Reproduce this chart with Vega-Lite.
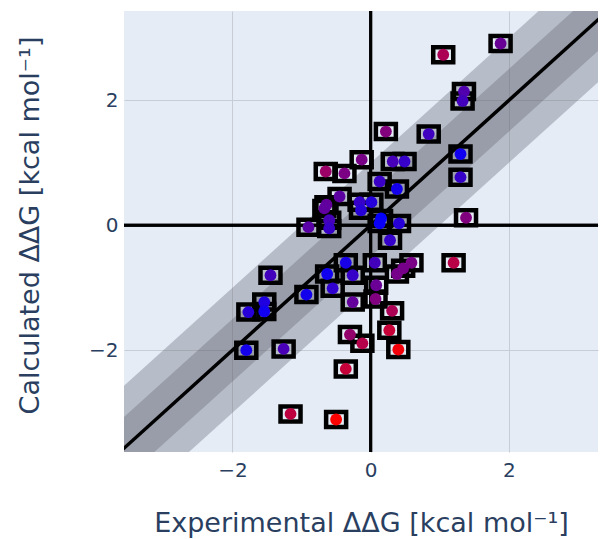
{
  "$schema": "https://vega.github.io/schema/vega-lite/v6.json",
  "width": 474,
  "height": 441,
  "autosize": "none",
  "padding": {"left": 124, "top": 11, "right": 2, "bottom": 87},
  "background": "white",
  "config": {
    "view": {"fill": "#e5ecf6", "stroke": null},
    "font": "DejaVu Sans",
    "axis": {
      "grid": true, "gridColor": "#c8ccd4", "gridWidth": 1, "ticks": false, "domain": false,
      "labelFont": "DejaVu Sans", "labelFontSize": 20, "labelColor": "#2a3f5f",
      "titleFont": "DejaVu Sans", "titleFontSize": 27, "titleColor": "#2a3f5f", "titleFontWeight": "normal"
    }
  },
  "datasets": {
    "band": [
      {"x": -5, "lo1": -6, "hi1": -4, "lo05": -5.5, "hi05": -4.5, "y": -5},
      {"x": 5, "lo1": 4, "hi1": 6, "lo05": 4.5, "hi05": 5.5, "y": 5}
    ],
    "pts": [
      {"exp": 1.88, "calc": 2.91, "d": 1.03},
      {"exp": 1.05, "calc": 2.73, "d": 1.68},
      {"exp": 1.35, "calc": 2.14, "d": 0.79},
      {"exp": 1.33, "calc": 1.99, "d": 0.66},
      {"exp": 0.22, "calc": 1.50, "d": 1.28},
      {"exp": 0.84, "calc": 1.46, "d": 0.62},
      {"exp": 1.30, "calc": 1.14, "d": 0.16},
      {"exp": 1.30, "calc": 0.77, "d": 0.53},
      {"exp": 1.38, "calc": 0.12, "d": 1.26},
      {"exp": 0.32, "calc": 1.02, "d": 0.70},
      {"exp": 0.49, "calc": 1.02, "d": 0.53},
      {"exp": -0.13, "calc": 1.05, "d": 1.18},
      {"exp": 0.13, "calc": 0.70, "d": 0.57},
      {"exp": 0.38, "calc": 0.58, "d": 0.20},
      {"exp": 0.01, "calc": 0.37, "d": 0.36},
      {"exp": -0.16, "calc": 0.37, "d": 0.53},
      {"exp": -0.14, "calc": 0.24, "d": 0.38},
      {"exp": 0.15, "calc": 0.11, "d": 0.04},
      {"exp": 0.13, "calc": 0.03, "d": 0.10},
      {"exp": 0.41, "calc": 0.03, "d": 0.38},
      {"exp": -0.65, "calc": 0.86, "d": 1.51},
      {"exp": -0.38, "calc": 0.83, "d": 1.21},
      {"exp": -0.45, "calc": 0.46, "d": 0.91},
      {"exp": -0.64, "calc": 0.33, "d": 0.97},
      {"exp": -0.67, "calc": 0.27, "d": 0.94},
      {"exp": -0.60, "calc": 0.08, "d": 0.68},
      {"exp": -0.60, "calc": -0.05, "d": 0.55},
      {"exp": -0.90, "calc": -0.03, "d": 0.87},
      {"exp": 0.28, "calc": -0.24, "d": 0.52},
      {"exp": -0.36, "calc": -0.60, "d": 0.24},
      {"exp": 0.06, "calc": -0.60, "d": 0.66},
      {"exp": -1.45, "calc": -0.80, "d": 0.65},
      {"exp": -0.63, "calc": -0.78, "d": 0.15},
      {"exp": -0.26, "calc": -0.80, "d": 0.54},
      {"exp": 0.08, "calc": -0.96, "d": 1.04},
      {"exp": -0.93, "calc": -1.11, "d": 0.18},
      {"exp": -0.55, "calc": -1.01, "d": 0.46},
      {"exp": 0.07, "calc": -1.18, "d": 1.25},
      {"exp": -0.26, "calc": -1.23, "d": 0.97},
      {"exp": -1.54, "calc": -1.23, "d": 0.31},
      {"exp": -1.54, "calc": -1.38, "d": 0.16},
      {"exp": -1.77, "calc": -1.39, "d": 0.38},
      {"exp": -0.30, "calc": -1.75, "d": 1.45},
      {"exp": -0.12, "calc": -1.89, "d": 1.77},
      {"exp": -1.80, "calc": -2.00, "d": 0.20},
      {"exp": -1.26, "calc": -1.98, "d": 0.72},
      {"exp": 0.59, "calc": -0.60, "d": 1.19},
      {"exp": 0.47, "calc": -0.69, "d": 1.16},
      {"exp": 0.38, "calc": -0.78, "d": 1.16},
      {"exp": 1.20, "calc": -0.60, "d": 1.80},
      {"exp": 0.31, "calc": -1.37, "d": 1.68},
      {"exp": 0.27, "calc": -1.68, "d": 1.95},
      {"exp": 0.40, "calc": -1.99, "d": 2.39},
      {"exp": -0.36, "calc": -2.30, "d": 1.94},
      {"exp": -1.16, "calc": -3.02, "d": 1.86},
      {"exp": -0.50, "calc": -3.11, "d": 2.61}
    ]
  },
  "encoding": {
    "x": {"type": "quantitative", "scale": {"domain": [-3.57, 3.29], "nice": false, "zero": false},
      "axis": {"values": [-2, 0, 2], "title": "Experimental ΔΔG [kcal mol⁻¹]", "labelPadding": 8, "titlePadding": 30}},
    "y": {"type": "quantitative", "scale": {"domain": [-3.63, 3.43], "nice": false, "zero": false},
      "axis": {"values": [-2, 0, 2], "title": "Calculated ΔΔG  [kcal mol⁻¹]", "labelPadding": 6, "titlePadding": 44, "titleY": 214}}
  },
  "layer": [
    {
      "data": {"name": "band"},
      "mark": {"type": "area", "clip": true, "color": "#5a5f6b", "opacity": 0.33},
      "encoding": {"x": {"field": "x"}, "y": {"field": "lo1"}, "y2": {"field": "hi1"}}
    },
    {
      "data": {"name": "band"},
      "mark": {"type": "area", "clip": true, "color": "#5a5f6b", "opacity": 0.33},
      "encoding": {"x": {"field": "x"}, "y": {"field": "lo05"}, "y2": {"field": "hi05"}}
    },
    {
      "data": {"name": "band"},
      "mark": {"type": "rule", "color": "black", "strokeWidth": 3},
      "encoding": {"x": {"datum": 0}}
    },
    {
      "data": {"name": "band"},
      "mark": {"type": "rule", "color": "black", "strokeWidth": 3},
      "encoding": {"y": {"datum": 0}}
    },
    {
      "data": {"name": "band"},
      "mark": {"type": "line", "clip": true, "color": "black", "strokeWidth": 3.5},
      "encoding": {"x": {"field": "x"}, "y": {"field": "y"}}
    },
    {
      "data": {"name": "pts"},
      "mark": {"type": "point", "shape": "M-1,-0.75H1V0.75H-1Z", "filled": false, "stroke": "black", "strokeWidth": 4.5, "size": 400, "opacity": 1},
      "encoding": {"x": {"field": "exp"}, "y": {"field": "calc"}}
    },
    {
      "data": {"name": "pts"},
      "mark": {"type": "circle", "size": 140, "opacity": 1},
      "encoding": {
        "x": {"field": "exp"}, "y": {"field": "calc"},
        "color": {"field": "d", "type": "quantitative", "scale": {"domain": [0, 2.5], "range": ["#0000ff", "#ff0000"], "interpolate": "rgb", "clamp": true}, "legend": null}
      }
    }
  ]
}
